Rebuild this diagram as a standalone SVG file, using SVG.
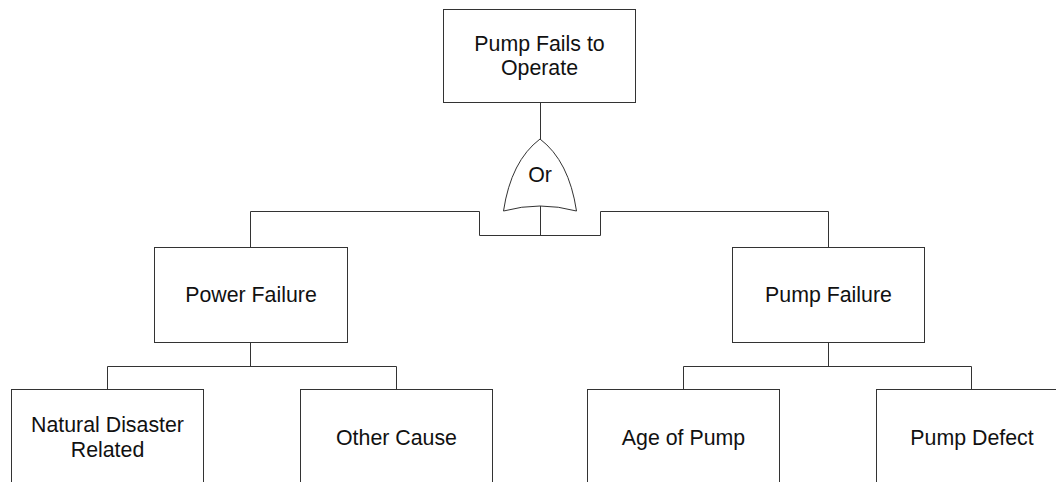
<svg xmlns="http://www.w3.org/2000/svg" width="1056" height="482" viewBox="0 0 1056 482">
  <style>
    .box { fill: #ffffff; stroke: #333333; stroke-width: 1; }
    .wire { fill: none; stroke: #333333; stroke-width: 1; }
    .lbl { font-family: "Liberation Sans", Arial, sans-serif; font-size: 21.33px; fill: #111111; text-anchor: middle; }
  </style>
  <rect width="1056" height="482" fill="#ffffff"/>

  <!-- connectors -->
  <g id="connectors">
    <path class="wire" d="M540.5,102 V139"/>
    <path class="wire" d="M540.5,206 V235.5"/>
    <path class="wire" d="M250.5,247 V211.5 H479.5 V235.5 H600.5 V211.5 H828.5 V247"/>
    <path class="wire" d="M250.5,342 V366.5"/>
    <path class="wire" d="M107.5,389 V366.5 H396.5 V389"/>
    <path class="wire" d="M828.5,342 V366.5"/>
    <path class="wire" d="M683.5,389 V366.5 H971.5 V389"/>
  </g>

  <g id="top-event">
    <rect class="box" x="443.5" y="9.5" width="192" height="93"/>
    <text class="lbl" x="539.5" y="50.5">Pump Fails to</text>
    <text class="lbl" x="539.5" y="75">Operate</text>
  </g>

  <g id="or-gate">
    <path class="box" d="M540,139 Q511,161 503.5,211 Q540,201 576.5,211 Q569,161 540,139 Z"/>
    <text class="lbl" x="540" y="181.5">Or</text>
  </g>

  <g id="power-failure">
    <rect class="box" x="154.5" y="247.5" width="193" height="95"/>
    <text class="lbl" x="251" y="302">Power Failure</text>
  </g>

  <g id="pump-failure">
    <rect class="box" x="732.5" y="247.5" width="192" height="95"/>
    <text class="lbl" x="828.5" y="302">Pump Failure</text>
  </g>

  <g id="natural-disaster">
    <rect class="box" x="11.5" y="389.5" width="192" height="95"/>
    <text class="lbl" x="107.5" y="432">Natural Disaster</text>
    <text class="lbl" x="107.5" y="456.5">Related</text>
  </g>

  <g id="other-cause">
    <rect class="box" x="300.5" y="389.5" width="192" height="95"/>
    <text class="lbl" x="396.5" y="444.5">Other Cause</text>
  </g>

  <g id="age-of-pump">
    <rect class="box" x="587.5" y="389.5" width="192" height="95"/>
    <text class="lbl" x="683.5" y="444.5">Age of Pump</text>
  </g>

  <g id="pump-defect">
    <rect class="box" x="876.5" y="389.5" width="192" height="95"/>
    <text class="lbl" x="972" y="444.5">Pump Defect</text>
  </g>
</svg>
